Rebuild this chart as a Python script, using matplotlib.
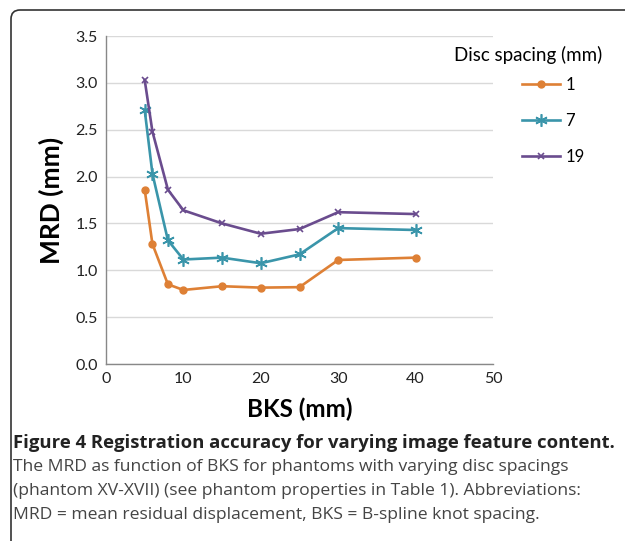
# MRD vs BKS for phantoms with varying disc spacing (Figure 4)

import matplotlib
matplotlib.use("Agg")
import matplotlib.pyplot as plt
from matplotlib.path import Path
from matplotlib.patches import PathPatch

# Data
bks = [5, 6, 8, 10, 15, 20, 25, 30, 40]
mrd_1 = [1.86, 1.28, 0.85, 0.79, 0.83, 0.815, 0.82, 1.11, 1.135]
mrd_7 = [2.71, 2.03, 1.32, 1.115, 1.135, 1.075, 1.17, 1.45, 1.43]
mrd_19 = [3.03, 2.48, 1.86, 1.64, 1.50, 1.39, 1.44, 1.62, 1.60]
series_labels = ["1", "7", "19"]
colors = ["#DE8035", "#3A95AA", "#6A4C8E"]

caption_title = "Figure 4 Registration accuracy for varying image feature content."
caption_lines = [
    "The MRD as function of BKS for phantoms with varying disc spacings",
    "(phantom XV-XVII) (see phantom properties in Table 1). Abbreviations:",
    "MRD = mean residual displacement, BKS = B-spline knot spacing.",
]

W, H = 625, 544
plt.rcParams["font.family"] = ["Lato", "DejaVu Sans"]

fig = plt.figure(figsize=(W / 100, H / 100), dpi=100)
ax = fig.add_axes([106 / W, 1 - 364 / H, 387 / W, 328 / H])

ax.plot(bks, mrd_1, color=colors[0], lw=1.9, marker="o", ms=5, label=series_labels[0])
ax.plot(bks, mrd_7, color=colors[1], lw=1.9, marker=(6, 2, 0), ms=9, mew=1.2,
        label=series_labels[1])
ax.plot(bks, mrd_19, color=colors[2], lw=1.9, marker="x", ms=5, mew=1.2,
        label=series_labels[2])

ax.set_xlim(0, 50)
ax.set_ylim(0, 3.5)
ax.set_xticks(range(0, 51, 10))
ax.set_yticks([i * 0.5 for i in range(8)])
ax.set_yticklabels([f"{i * 0.5:.1f}" for i in range(8)])
ax.tick_params(length=0, labelsize=11.5, colors="#222222", pad=6)
ax.grid(axis="y", color="#D9D9D9", lw=1)
ax.set_axisbelow(True)
for s in ["top", "right"]:
    ax.spines[s].set_visible(False)
for s in ["left", "bottom"]:
    ax.spines[s].set_color("#888888")
    ax.spines[s].set_linewidth(1)

ax.set_xlabel("BKS (mm)", fontsize=17.5, fontweight="bold", labelpad=8)
ax.set_ylabel("MRD (mm)", fontsize=19, fontweight="bold", labelpad=8)

# legend with its title placed separately
fig.text(454 / W, 1 - 55 / H, "Disc spacing (mm)", fontsize=13.5, va="center", ha="left")
leg = fig.legend(loc="upper left", bbox_to_anchor=(507 / W, 1 - 62 / H), frameon=False,
                 fontsize=12, handlelength=2.3, handletextpad=0.3, labelspacing=1.2)

# caption
cap_font = ["Open Sans", "DejaVu Sans"]
fig.text(13 / W, 1 - 443 / H, caption_title, fontsize=13.3, fontweight="bold",
         family=cap_font, va="center", color="#222222")
for i, line in enumerate(caption_lines):
    fig.text(13 / W, 1 - (467 + 24 * i) / H, line, fontsize=12.6,
             family=cap_font, va="center", color="#444444")

# frame around the figure: left edge and top edge with a rounded corner
r = 9
pts = [(11, H - 541), (11, H - 10 - r), (11, H - 10), (11 + r, H - 10), (W, H - 10)]
codes = [Path.MOVETO, Path.LINETO, Path.CURVE3, Path.CURVE3, Path.LINETO]
frame = Path([(x / W, y / H) for x, y in pts], codes)
fig.add_artist(PathPatch(frame, transform=fig.transFigure, fill=False,
                         edgecolor="#333333", lw=1.2))

fig.savefig("out.png", dpi=100)
